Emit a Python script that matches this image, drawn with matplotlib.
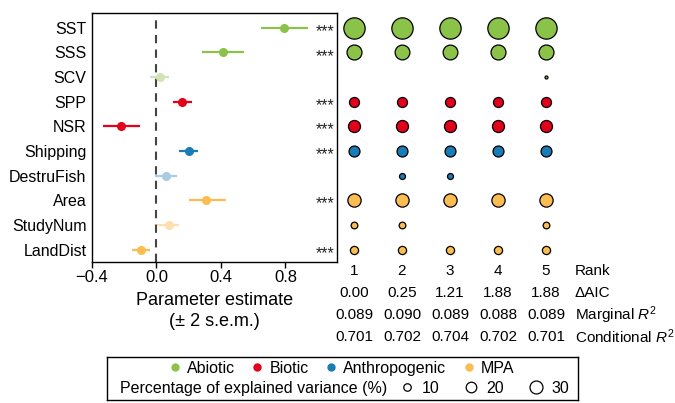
import numpy as np
import matplotlib
matplotlib.use('Agg')
import matplotlib.pyplot as plt
import matplotlib.transforms as mtransforms
from matplotlib.lines import Line2D

plt.rcParams['font.family'] = ['Liberation Sans', 'DejaVu Sans']
plt.rcParams['mathtext.fontset'] = 'custom'
plt.rcParams['mathtext.rm'] = 'Liberation Sans'
plt.rcParams['mathtext.it'] = 'Liberation Sans:italic'

variables = ['SST', 'SSS', 'SCV', 'SPP', 'NSR', 'Shipping', 'DestruFish', 'Area', 'StudyNum', 'LandDist']
groups = ['Abiotic', 'Abiotic', 'Abiotic', 'Biotic', 'Biotic', 'Anthropogenic', 'Anthropogenic', 'MPA', 'MPA', 'MPA']
estimate = [0.79, 0.415, 0.02, 0.16, -0.22, 0.20, 0.06, 0.31, 0.075, -0.095]
lower = [0.65, 0.285, -0.04, 0.105, -0.33, 0.14, -0.01, 0.20, 0.005, -0.15]
upper = [0.94, 0.54, 0.08, 0.22, -0.10, 0.255, 0.13, 0.43, 0.14, -0.04]
significant = [True, True, False, True, True, True, False, True, False, True]

ranks = ['1', '2', '3', '4', '5']
delta_aic = ['0.00', '0.25', '1.21', '1.88', '1.88']
marginal_r2 = ['0.089', '0.090', '0.089', '0.088', '0.089']
conditional_r2 = ['0.701', '0.702', '0.704', '0.702', '0.701']

# explained variance (%) of each variable in each of the 5 best models, None = not in model
variance = [
    [81, 81, 81, 81, 81],
    [40, 39, 39, 40, 40],
    [None, None, None, None, 1.6],
    [18, 18, 18, 18, 18],
    [26, 26, 26, 26, 26],
    [21.5, 21.5, 21.5, 21.5, 21.5],
    [None, 6.4, 6.4, None, None],
    [31.5, 31.5, 31.5, 31.5, 31.5],
    [8, 8, None, None, 8],
    [12, 12, 12, 12, 12],
]
legend_sizes = [10, 20, 30]

group_colors = {'Abiotic': '#8bc34a', 'Biotic': '#e2001a',
                'Anthropogenic': '#1b7bb4', 'MPA': '#fbbc51'}
light_colors = {'Abiotic': '#cfe6b4', 'Biotic': '#f3a3aa',
                'Anthropogenic': '#a9cbe3', 'MPA': '#fde0ad'}
size_scale = 2.9  # points^2 per percent
fs = 11.5

fig = plt.figure(figsize=(6.75, 4.03), dpi=100)
W, H = 675, 403

# forest plot
ax1 = fig.add_axes([92 / W, 1 - 262 / H, (337 - 92) / W, (262 - 13) / H])
rows = np.arange(len(variables))
for i, v in enumerate(variables):
    c = group_colors[groups[i]] if significant[i] else light_colors[groups[i]]
    ax1.plot([lower[i], upper[i]], [i, i], color=c, lw=1.6, solid_capstyle='butt')
    ax1.plot(estimate[i], i, 'o', color=c, ms=5.5)
    if significant[i]:
        ax1.text(1.105, i + 0.15, '***', ha='right', va='center', fontsize=fs, color='#222222')
ax1.axvline(0, color='#444444', ls=(0, (4, 3)), lw=1.5, zorder=0)
ax1.set_xlim(-0.4, 1.12)
ax1.set_ylim(9.5, -0.6)
ax1.set_yticks(rows)
ax1.set_yticklabels(variables, fontsize=fs)
ax1.tick_params(axis='y', length=0, pad=4)
ax1.set_xticks([-0.4, 0.0, 0.4, 0.8])
ax1.set_xticklabels(['\u22120.4', '0.0', '0.4', '0.8'], fontsize=12)
ax1.tick_params(axis='x', length=4, width=1, pad=2)
for s in ax1.spines.values():
    s.set_linewidth(1)
ax1.set_xlabel('Parameter estimate\n(\u00b1 2 s.e.m.)', fontsize=13, labelpad=5, linespacing=1.25)

# bubble matrix
ax2 = fig.add_axes([337 / W, 1 - 262 / H, (W - 337) / W, (262 - 13) / H])
for i in range(len(variables)):
    for j in range(len(ranks)):
        val = variance[i][j]
        if val is None:
            continue
        ax2.scatter(j + 1, i, s=size_scale * val, color=group_colors[groups[i]],
                    edgecolor='black', linewidth=0.9, zorder=3)
ax2.set_xlim(1 - 17 / 48, 1 + (W - 354) / 48)
ax2.set_ylim(9.5, -0.6)
ax2.axis('off')

# model summary table
trans = mtransforms.blended_transform_factory(ax2.transData, fig.transFigure)
table_rows = [(ranks, 'Rank', 271), (delta_aic, '\u0394AIC', 293),
              (marginal_r2, 'Marginal $\\mathit{R}^2$', 315),
              (conditional_r2, 'Conditional $\\mathit{R}^2$', 337)]
for vals, label, ypx in table_rows:
    for j, t in enumerate(vals):
        ax2.text(j + 1, 1 - ypx / H, t, transform=trans, ha='center', va='center', fontsize=11)
    ax2.text(5.6, 1 - ypx / H, label, transform=trans, ha='left', va='center', fontsize=11)

# legend box
bx0, bx1 = 107, 578
ax3 = fig.add_axes([bx0 / W, 3 / H, (bx1 - bx0) / W, (400 - 357) / H])
ax3.set_xticks([])
ax3.set_yticks([])
for s in ax3.spines.values():
    s.set_linewidth(1)
bw = bx1 - bx0
group_handles = [Line2D([], [], marker='o', ls='', color=group_colors[g], ms=5)
                 for g in group_colors]
leg1 = ax3.legend(group_handles, list(group_colors), ncol=4, loc='center left',
                  bbox_to_anchor=((167 - bx0) / bw, 0.74), frameon=False, fontsize=fs,
                  handletextpad=0.25, columnspacing=0.9, handlelength=1.0,
                  borderpad=0, borderaxespad=0)
ax3.add_artist(leg1)
ax3.text((120 - bx0) / bw, 0.27, 'Percentage of explained variance (%)', transform=ax3.transAxes,
         ha='left', va='center', fontsize=fs)
size_handles = [Line2D([], [], marker='o', ls='', mfc='white', mec='black', mew=0.9,
                       ms=np.sqrt(size_scale * v)) for v in legend_sizes]
ax3.legend(size_handles, [str(v) for v in legend_sizes], ncol=3, loc='center left',
           bbox_to_anchor=((397 - bx0) / bw, 0.27), frameon=False, fontsize=fs,
           handletextpad=0.35, columnspacing=1.4, handlelength=1.2,
           borderpad=0, borderaxespad=0)

fig.savefig('out.png', dpi=100)
